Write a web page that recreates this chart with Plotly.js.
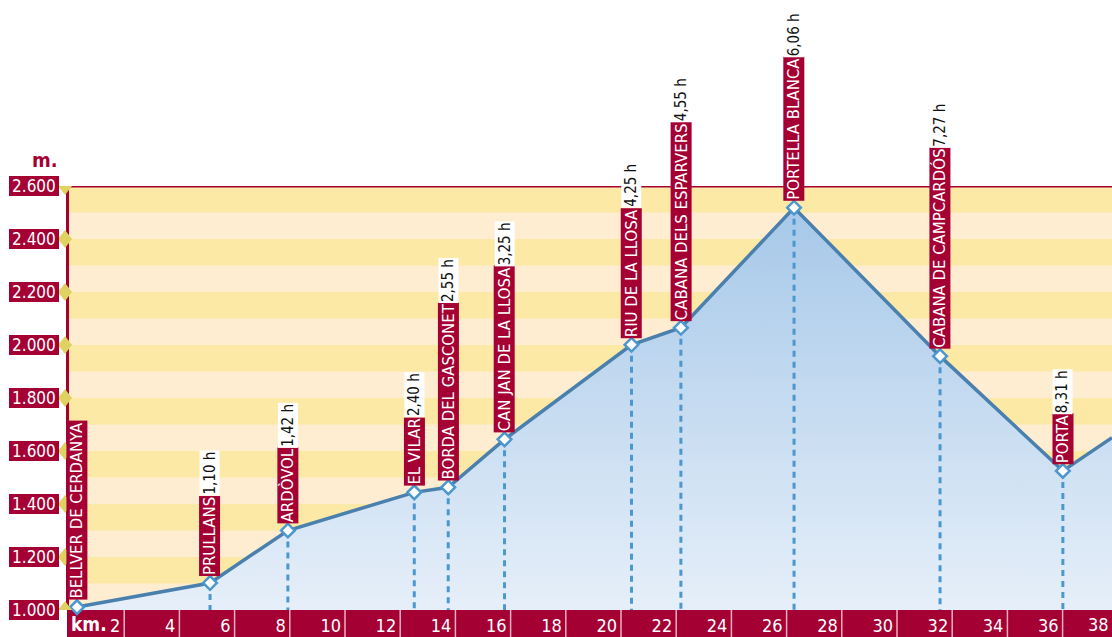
<!DOCTYPE html>
<html><head><meta charset="utf-8">
<script src="https://cdn.plot.ly/plotly-3.0.1.min.js"></script>
<style>html,body{margin:0;padding:0;background:#fff;overflow:hidden}#chart{width:1112px;height:637px}</style>
</head><body><div id="chart"></div>
<script>
// ---- data ----
const places = ['BELLVER DE CERDANYA','PRULLANS','ARDÒVOL','EL VILAR','BORDA DEL GASCONET','CAN JAN DE LA LLOSA','RIU DE LA LLOSA','CABANA DELS ESPARVERS','PORTELLA BLANCA','CABANA DE CAMPCARDÓS','PORTA'];
const placeKm = [0.29, 5.11, 7.93, 12.51, 13.74, 15.78, 20.38, 22.17, 26.27, 31.56, 36.01];
const placeElev = [1011, 1102, 1300, 1444, 1463, 1644, 2001, 2065, 2518, 1958, 1525];
const placeTimes = ['', '1,10 h', '1,42 h', '2,40 h', '2,55 h', '3,25 h', '4,25 h', '4,55 h', '6,06 h', '7,27 h', '8,31 h'];
const trailKm = [37.79];
const trailElev = [1650];
const yTickVals = [1000, 1200, 1400, 1600, 1800, 2000, 2200, 2400, 2600];
const xTickVals = [2, 4, 6, 8, 10, 12, 14, 16, 18, 20, 22, 24, 26, 28, 30, 32, 34, 36, 38];
const stripeBounds = [1000, 1100, 1200, 1300, 1400, 1500, 1600, 1700, 1800, 1900, 2000, 2100, 2200, 2300, 2400, 2500, 2600];
const xRange = [0, 37.79];

// ---- styling ----
const RED = '#a50034';
const FONT = '"DejaVu Sans Condensed", "Liberation Sans Narrow", "DejaVu Sans", sans-serif';
const BLUE_LINE = '#4a80ae';
const BLUE_DOT = '#4b97cf';
const NAME_SIZE = 16.6;

const ctx = document.createElement('canvas').getContext('2d');
function textW(t, size) { ctx.font = size + 'px ' + FONT; return ctx.measureText(t).width; }
function fmt(v) { return String(v).replace(/(\d)(?=(\d{3})+$)/, '$1.'); }

const profileKm = placeKm.concat(trailKm);
const profileElev = placeElev.concat(trailElev);

const dropX = [], dropY = [];
for (let i = 1; i < placeKm.length; i++) {
  dropX.push(placeKm[i], placeKm[i], null);
  dropY.push(placeElev[i], yTickVals[0], null);
}

const traces = [
  {
    x: profileKm, y: profileElev, mode: 'lines', type: 'scatter',
    line: {color: BLUE_LINE, width: 3.5},
    fill: 'tozeroy',
    fillgradient: {type: 'vertical', start: 1000, stop: 2600,
      colorscale: [[0, '#e6eff9'], [1, '#a3c6e8']]},
    hoverinfo: 'skip'
  },
  {
    x: dropX, y: dropY, mode: 'lines', type: 'scatter',
    line: {color: BLUE_DOT, width: 3, dash: '6px,5px'}, hoverinfo: 'skip'
  },
  {
    x: placeKm, y: placeElev, mode: 'markers', type: 'scatter', cliponaxis: false,
    marker: {symbol: 'diamond', size: 10.5, color: '#ffffff', line: {color: BLUE_DOT, width: 2.5}},
    hoverinfo: 'skip'
  }
];

const shapes = [];
for (let i = 0; i < stripeBounds.length - 1; i++) {
  if (i % 2 === 1) {
    shapes.push({type: 'rect', layer: 'below', xref: 'paper', x0: 0, x1: 1, yref: 'y',
      y0: stripeBounds[i], y1: stripeBounds[i + 1], fillcolor: '#fde9a6', line: {width: 0}});
  }
}
shapes.push({type: 'line', xref: 'paper', x0: 0, x1: 1, yref: 'y', y0: yTickVals[yTickVals.length - 1], y1: yTickVals[yTickVals.length - 1],
  line: {color: RED, width: 3}});
// bottom km band
shapes.push({type: 'rect', layer: 'below', xref: 'paper', xsizemode: 'pixel', xanchor: 0, x0: -2, x1: 1100,
  yref: 'paper', ysizemode: 'pixel', yanchor: 0, y0: 0, y1: -28, fillcolor: RED, line: {width: 0}});
xTickVals.forEach(v => {
  shapes.push({type: 'line', layer: 'below', xref: 'x', x0: v, x1: v, yref: 'paper', ysizemode: 'pixel', yanchor: 0, y0: 0, y1: -28,
    line: {color: '#eeb0c0', width: 1.5}});
});
// yellow diamonds at y ticks
yTickVals.forEach(v => {
  shapes.push({type: 'path', xref: 'paper', xsizemode: 'pixel', xanchor: 0,
    yref: 'y', ysizemode: 'pixel', yanchor: v,
    path: 'M -4 9 L 3 0 L -4 -9 L -11 0 Z', fillcolor: '#e0d262', line: {width: 0}});
});

const annotations = [];
yTickVals.forEach(v => {
  annotations.push({xref: 'paper', x: 0, xanchor: 'right', xshift: -10, yref: 'y', y: v, yanchor: 'middle',
    text: '\u2009' + fmt(v) + '\u2009', showarrow: false, bgcolor: RED, borderwidth: 0, borderpad: 0,
    font: {family: FONT, size: 17, color: '#ffffff'}});
});
annotations.push({xref: 'paper', x: 0, xanchor: 'center', xshift: -24, yref: 'paper', y: 1, yanchor: 'bottom', yshift: 12,
  text: '<b>m.</b>', showarrow: false, font: {family: FONT, size: 20, color: RED}});
annotations.push({xref: 'paper', x: 0, xanchor: 'left', xshift: 0, yref: 'paper', y: 0, yanchor: 'middle', yshift: -14,
  text: '<b>km.</b>', showarrow: false, font: {family: FONT, size: 19, color: '#ffffff'}});
// km labels whose tick falls just past the visible range (kept inside the figure edge)
xTickVals.filter(v => v > xRange[1]).forEach(v => {
  annotations.push({xref: 'paper', x: (v - xRange[0]) / (xRange[1] - xRange[0]), xanchor: 'right', xshift: -7,
    yref: 'paper', y: 0, yanchor: 'middle', yshift: -14, text: String(v), showarrow: false,
    font: {family: FONT, size: 18, color: '#ffffff'}});
});

places.forEach((p, i) => {
  annotations.push({x: placeKm[i], y: placeElev[i], xref: 'x', yref: 'y', xanchor: 'center', yanchor: 'bottom',
    yshift: 7, textangle: -90, text: p, showarrow: false, bgcolor: RED, borderwidth: 0, borderpad: 1,
    font: {family: FONT, size: NAME_SIZE, color: '#ffffff'}});
  if (placeTimes[i]) {
    const h = Math.round(textW(p, NAME_SIZE) + 2);
    annotations.push({x: placeKm[i], y: placeElev[i], xref: 'x', yref: 'y', xanchor: 'center', yanchor: 'bottom',
      yshift: 7 + h, textangle: -90, text: placeTimes[i], showarrow: false, bgcolor: '#ffffff', borderwidth: 0, borderpad: 1,
      font: {family: FONT, size: 15, color: '#111111'}});
  }
});

const layout = {
  width: 1112, height: 637,
  margin: {l: 69, r: 0, t: 186, b: 27},
  paper_bgcolor: '#ffffff', plot_bgcolor: '#feedd0',
  showlegend: false,
  xaxis: {range: xRange, tickvals: xTickVals, ticktext: xTickVals.map(String), showgrid: false, zeroline: false,
    showline: false, ticks: '', ticklabelposition: 'outside left', ticklabelstandoff: 3, ticklabelshift: -4,
    tickfont: {family: FONT, size: 18, color: '#ffffff'}, fixedrange: true},
  yaxis: {range: [yTickVals[0], yTickVals[yTickVals.length - 1]], showticklabels: false, showgrid: false, zeroline: false,
    showline: true, linecolor: RED, linewidth: 3, ticks: '', fixedrange: true},
  shapes: shapes, annotations: annotations
};

Plotly.newPlot('chart', traces, layout, {displayModeBar: false, staticPlot: true});
</script>
</body></html>
